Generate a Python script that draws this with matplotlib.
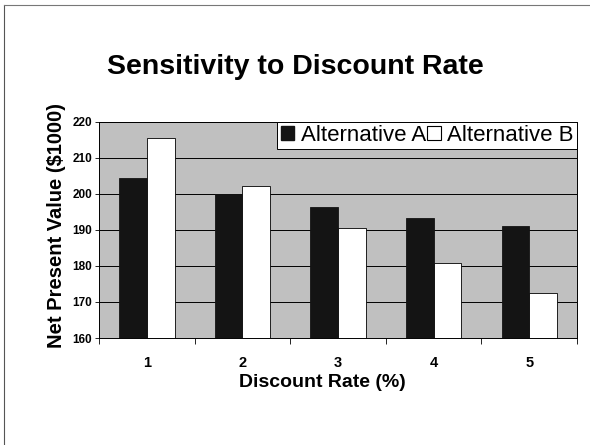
import matplotlib
matplotlib.use("Agg")
import matplotlib.pyplot as plt
import numpy as np
from matplotlib.patches import Patch
from matplotlib.lines import Line2D

categories = ["1", "2", "3", "4", "5"]
alt_a = [204.4, 200.0, 196.3, 193.4, 191.2]
alt_b = [215.6, 202.1, 190.5, 180.7, 172.6]
y_ticks = [160, 170, 180, 190, 200, 210, 220]

plt.rcParams['font.family'] = ['Liberation Sans', 'DejaVu Sans']

fig = plt.figure(figsize=(5.9, 4.45), dpi=100)
ax = fig.add_axes([0.168, 0.2404, 0.81, 0.486])
ax.set_facecolor('#c0c0c0')

x = np.arange(len(categories))
w = 0.29
ax.bar(x - w / 2, alt_a, w, color='#141414', edgecolor='#141414', linewidth=0.6, zorder=3)
ax.bar(x + w / 2, alt_b, w, color='white', edgecolor='black', linewidth=0.6, zorder=3)

ax.set_ylim(160, 220)
ax.set_xlim(-0.5, len(categories) - 0.5)
ax.set_yticks(y_ticks)
ax.set_yticklabels([str(t) for t in y_ticks], fontsize=8.5, fontweight='bold')
ax.set_xticks(x)
ax.set_xticklabels(categories, fontsize=10.5, fontweight='bold')
ax.tick_params(axis='x', which='major', length=0, pad=13)
ax.set_xticks(np.arange(-0.5, len(categories)), minor=True)
ax.tick_params(axis='x', which='minor', length=4, width=0.6, direction='out')
ax.tick_params(axis='y', length=3, width=0.6, direction='out', pad=2)
ax.yaxis.grid(True, color='black', linewidth=0.7, zorder=1)
ax.set_axisbelow(True)
for s in ax.spines.values():
    s.set_linewidth(0.7)

ax.set_xlabel("Discount Rate (%)", fontsize=14, fontweight='bold')
ax.xaxis.set_label_coords(0.467, -0.165)
ax.set_ylabel("Net Present Value ($1000)", fontsize=14.5, fontweight='bold')
ax.yaxis.set_label_coords(-0.07, 0.52)

fig.text(0.5, 0.85, "Sensitivity to Discount Rate", ha='center', va='center',
         fontsize=20.5, fontweight='bold')

handles = [Patch(facecolor='#141414', edgecolor='#141414'),
           Patch(facecolor='white', edgecolor='black', linewidth=0.8)]
leg = ax.legend(handles, ["Alternative A", "Alternative B"], ncol=2, loc='upper right',
                bbox_to_anchor=(1.0, 1.0), fontsize=16, handlelength=0.6, handleheight=0.6,
                handletextpad=0.3, columnspacing=0.05, borderpad=0.15, borderaxespad=0.0,
                fancybox=False, framealpha=1, edgecolor='black')
leg.get_frame().set_linewidth(0.7)
leg.set_zorder(5)

fig.add_artist(Line2D([0.007, 0.007], [0.0, 0.989], transform=fig.transFigure, color='#555555', linewidth=0.8))
fig.add_artist(Line2D([0.007, 1.0], [0.989, 0.989], transform=fig.transFigure, color='#777777', linewidth=0.8))

fig.savefig("out.png", dpi=100)
